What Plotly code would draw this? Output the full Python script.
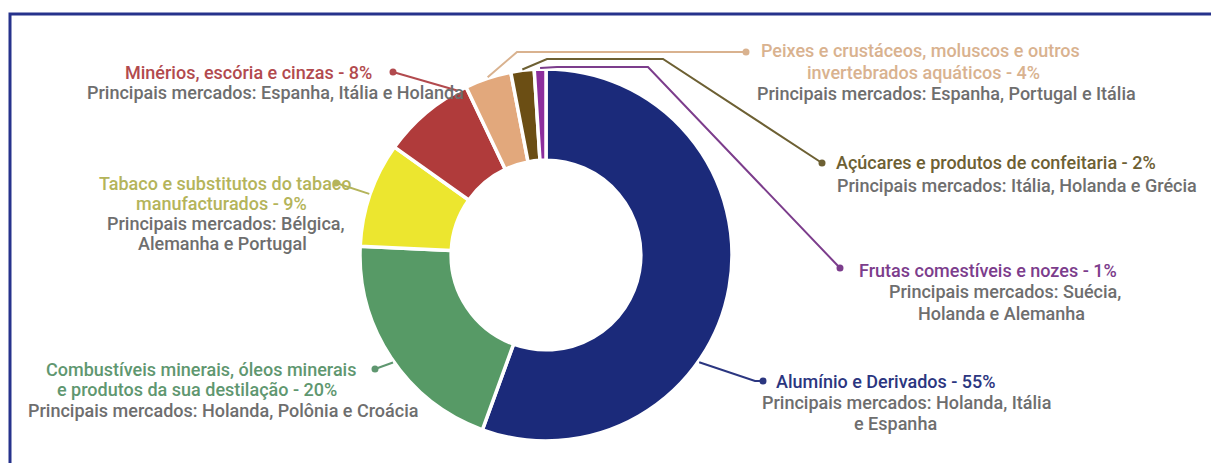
import math
import plotly.graph_objects as go

# ---------------- data ----------------
categories = [
    "Alumínio e Derivados",
    "Combustíveis minerais, óleos minerais e produtos da sua destilação",
    "Tabaco e substitutos do tabaco manufacturados",
    "Minérios, escória e cinzas",
    "Peixes e crustáceos, moluscos e outros invertebrados aquáticos",
    "Açúcares e produtos de confeitaria",
    "Frutas comestíveis e nozes",
]
shares = [55, 20, 9, 8, 4, 2, 1]

label_lines = [
    ["Alumínio e Derivados - 55%", "Principais mercados: Holanda, Itália", "e Espanha"],
    ["Combustíveis minerais, óleos minerais", "e produtos da sua destilação - 20%",
     "Principais mercados: Holanda, Polônia e Croácia"],
    ["Tabaco e substitutos do tabaco", "manufacturados - 9%", "Principais mercados: Bélgica,",
     "Alemanha e Portugal"],
    ["Minérios, escória e cinzas - 8%", "Principais mercados: Espanha, Itália e Holanda"],
    ["Peixes e crustáceos, moluscos e outros", "invertebrados aquáticos - 4%",
     "Principais mercados: Espanha, Portugal e Itália"],
    ["Açúcares e produtos de confeitaria - 2%", "Principais mercados: Itália, Holanda e Grécia"],
    ["Frutas comestíveis e nozes - 1%", "Principais mercados: Suécia,", "Holanda e Alemanha"],
]
# number of coloured title lines per label (rest are grey)
title_line_count = [1, 2, 2, 1, 2, 1, 1]

# ---------------- style / layout ----------------
W, H = 1211, 463
slice_colors = ["#1b2a7a", "#579a66", "#ece62f", "#b03b3b", "#e2a87c", "#6b4e14", "#8c2e9c"]
text_colors = ["#2b3680", "#5f9770", "#b4b45a", "#b24a4e", "#d9b28f", "#6d6033", "#7c3d8c"]
grey = "#6e6e6e"

CX, CY, R = 546, 255, 186  # donut centre / radius in pixels
HOLE = 0.51

# per label: line centres (x) and first line y, line spacing
label_x = [
    [886, 906, 895],
    [201, 197, 223],
    [225, 221, 226, 222],
    [248, 275],
    [920, 924, 946],
    [996, 1017],
    [988, 1005, 1001],
]
label_y0 = [381, 369, 183, 72, 51, 163, 270]
line_gap = [21, 20.5, 20, 20, 21.5, 22, 21.5]

attach_frac = [0.625, 0.48, 0.5, 0.9, 0.5, 0.5, 0.5]
# elbow points + dot (pixels) for leader lines
leader_pts = [
    [(755, 381), (763, 381)],
    [(375, 369)],
    [(336, 183)],
    [(393, 72)],
    [(517, 52), (746, 52)],
    [(547, 59), (663, 59), (822, 163)],
    [(557, 67), (648, 67), (840, 268)],
]


def px(x, y):
    return x / W, 1 - y / H


fig = go.Figure()
x0, _ = px(CX - R, 0)
x1, _ = px(CX + R, 0)
_, y1 = px(0, CY - R)
_, y0 = px(0, CY + R)
fig.add_trace(go.Pie(
    labels=categories, values=shares, sort=False, direction="clockwise", rotation=0,
    hole=HOLE, textinfo="none", hoverinfo="label+percent",
    marker=dict(colors=slice_colors, line=dict(color="white", width=3.5)),
    domain=dict(x=[x0, x1], y=[y0, y1]), showlegend=False,
))

total = sum(shares)
shapes = []
annotations = []
cum = 0.0
for i, v in enumerate(shares):
    a0 = cum / total * 360
    a1 = (cum + v) / total * 360
    cum += v
    ang = math.radians(a0 + attach_frac[i] * (a1 - a0))
    ax = CX + (R + 1) * math.sin(ang)
    ay = CY - (R + 1) * math.cos(ang)
    pts = [(ax, ay)] + leader_pts[i]
    path = "M " + " L ".join(f"{px(x, y)[0]:.5f},{px(x, y)[1]:.5f}" for x, y in pts)
    shapes.append(dict(type="path", xref="paper", yref="paper", path=path,
                       line=dict(color=text_colors[i], width=2)))
    dx, dy = leader_pts[i][-1]
    rr = 3.5
    c0 = px(dx - rr, dy + rr)
    c1 = px(dx + rr, dy - rr)
    shapes.append(dict(type="circle", xref="paper", yref="paper",
                       x0=c0[0], y0=c0[1], x1=c1[0], y1=c1[1],
                       fillcolor=text_colors[i], line=dict(color=text_colors[i], width=0)))
    for j, line in enumerate(label_lines[i]):
        lx, ly = px(label_x[i][j], label_y0[i] + j * line_gap[i])
        col = text_colors[i] if j < title_line_count[i] else grey
        annotations.append(dict(
            x=lx, y=ly, xref="paper", yref="paper", text=line, showarrow=False,
            xanchor="center", yanchor="middle",
            font=dict(family="Roboto", size=18, color=col, weight=500),
        ))

# frame
f0 = px(10, 470)
f1 = px(1220, 14)
shapes.append(dict(type="rect", xref="paper", yref="paper", x0=f0[0], y0=f0[1], x1=f1[0], y1=f1[1],
                   line=dict(color="#26328c", width=3), fillcolor="rgba(0,0,0,0)", layer="below"))

fig.update_layout(
    width=W, height=H, margin=dict(l=0, r=0, t=0, b=0),
    paper_bgcolor="white", plot_bgcolor="white",
    shapes=shapes, annotations=annotations,
)

fig.write_html("out.html", config={"displayModeBar": False},
               post_script="document.body.style.margin='0';document.body.style.overflow='hidden';")
